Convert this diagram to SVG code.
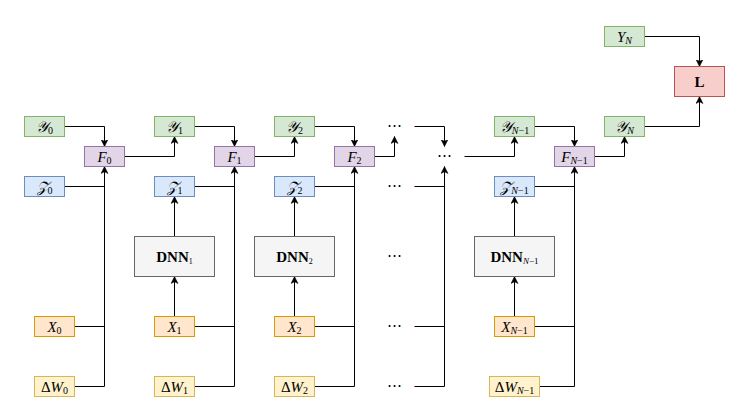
<svg xmlns="http://www.w3.org/2000/svg" width="744" height="413" viewBox="0 0 744 413">
<style>
text{font-family:"Liberation Serif","DejaVu Serif",serif;font-size:15px;text-anchor:middle;fill:#000}
.i{font-style:italic}
.s{font-size:10px}
.b{font-weight:bold}
.g rect{fill:#d5e8d4;stroke:#82b366}
.p rect{fill:#e1d5e7;stroke:#9673a6}
.bl rect{fill:#dae8fc;stroke:#6c8ebf}
.o rect{fill:#ffe6cc;stroke:#d79b00}
.y rect{fill:#fff2cc;stroke:#d6b656}
.gr rect{fill:#f5f5f5;stroke:#666666}
.r rect{fill:#f8cecc;stroke:#b85450}
#edges path{fill:none;stroke:#000;stroke-width:1}
#edges path.a{marker-end:url(#arr)}
</style>
<defs>
<marker id="arr" viewBox="0 0 8 8" refX="7" refY="4" markerWidth="8" markerHeight="8" markerUnits="userSpaceOnUse" orient="auto">
<path d="M0,0.5 L7,4 L0,7.5 L1.8,4 z" fill="#000" stroke="#000" stroke-width="0.5"/>
</marker>
</defs>
<rect width="744" height="413" fill="#fff"/>
<g transform="translate(0.5,0.5)">
<g id="edges">
<path class="a" d="M64,126 H104 V146"/>
<path d="M64,186 H104"/>
<path d="M74,326 H104"/>
<path class="a" d="M74,386 H104 V166"/>
<path class="a" d="M124,156 H174 V136"/>
<path class="a" d="M194,126 H234 V146"/>
<path d="M194,186 H234"/>
<path class="a" d="M174,236 V196"/>
<path class="a" d="M174,316 V276"/>
<path d="M194,326 H234"/>
<path class="a" d="M194,386 H234 V166"/>
<path class="a" d="M254,156 H294 V136"/>
<path class="a" d="M314,126 H354 V146"/>
<path d="M314,186 H354"/>
<path class="a" d="M294,236 V196"/>
<path class="a" d="M294,316 V276"/>
<path d="M314,326 H354"/>
<path class="a" d="M314,386 H354 V166"/>
<path class="a" d="M374,156 H394 V136"/>
<path class="a" d="M414,126 H444 V146"/>
<path d="M414,186 H444"/>
<path d="M414,326 H444"/>
<path class="a" d="M414,386 H444 V166"/>
<path class="a" d="M464,156 H514 V136"/>
<path class="a" d="M534,126 H574 V146"/>
<path d="M534,186 H574"/>
<path class="a" d="M514,236 V196"/>
<path class="a" d="M514,316 V276"/>
<path d="M534,326 H574"/>
<path class="a" d="M539,386 H574 V166"/>
<path class="a" d="M594,156 H624 V136"/>
<path class="a" d="M644,126 H699 V96"/>
<path class="a" d="M644,36 H699 V66"/>
</g>

<g id="Y0" class="g"><rect x="24" y="116" width="40" height="20"/><text x="44" y="131" class="i">𝒴<tspan class="s" font-style="normal" dy="2">0</tspan></text></g>
<g id="Z0" class="bl"><rect x="24" y="176" width="40" height="20"/><text x="44" y="191" class="i">𝒵<tspan class="s" font-style="normal" dy="2">0</tspan></text></g>
<g id="F0" class="p"><rect x="84" y="146" width="40" height="20"/><text x="104" y="161" class="i">F<tspan class="s" font-style="normal" dy="2">0</tspan></text></g>
<g id="X0" class="o"><rect x="34" y="316" width="40" height="20"/><text x="54" y="331" class="i">X<tspan class="s" font-style="normal" dy="2">0</tspan></text></g>
<g id="DW0" class="y"><rect x="34" y="376" width="40" height="20"/><text x="54" y="391">Δ<tspan class="i">W</tspan><tspan class="s" dy="2">0</tspan></text></g>

<g id="Y1" class="g"><rect x="154" y="116" width="40" height="20"/><text x="174" y="131" class="i">𝒴<tspan class="s" font-style="normal" dy="2">1</tspan></text></g>
<g id="Z1" class="bl"><rect x="154" y="176" width="40" height="20"/><text x="174" y="191" class="i">𝒵<tspan class="s" font-style="normal" dy="2">1</tspan></text></g>
<g id="F1" class="p"><rect x="214" y="146" width="40" height="20"/><text x="234" y="161" class="i">F<tspan class="s" font-style="normal" dy="2">1</tspan></text></g>
<g id="DNN1" class="gr"><rect x="134" y="236" width="80" height="40"/><text x="174" y="261" class="b" fill="#333">DNN<tspan font-size="8" font-weight="normal" dy="2">1</tspan></text></g>
<g id="X1" class="o"><rect x="154" y="316" width="40" height="20"/><text x="174" y="331" class="i">X<tspan class="s" font-style="normal" dy="2">1</tspan></text></g>
<g id="DW1" class="y"><rect x="154" y="376" width="40" height="20"/><text x="174" y="391">Δ<tspan class="i">W</tspan><tspan class="s" dy="2">1</tspan></text></g>

<g id="Y2" class="g"><rect x="274" y="116" width="40" height="20"/><text x="294" y="131" class="i">𝒴<tspan class="s" font-style="normal" dy="2">2</tspan></text></g>
<g id="Z2" class="bl"><rect x="274" y="176" width="40" height="20"/><text x="294" y="191" class="i">𝒵<tspan class="s" font-style="normal" dy="2">2</tspan></text></g>
<g id="F2" class="p"><rect x="334" y="146" width="40" height="20"/><text x="354" y="161" class="i">F<tspan class="s" font-style="normal" dy="2">2</tspan></text></g>
<g id="DNN2" class="gr"><rect x="254" y="236" width="80" height="40"/><text x="294" y="261" class="b" fill="#333">DNN<tspan font-size="8" font-weight="normal" dy="2">2</tspan></text></g>
<g id="X2" class="o"><rect x="274" y="316" width="40" height="20"/><text x="294" y="331" class="i">X<tspan class="s" font-style="normal" dy="2">2</tspan></text></g>
<g id="DW2" class="y"><rect x="274" y="376" width="40" height="20"/><text x="294" y="391">Δ<tspan class="i">W</tspan><tspan class="s" dy="2">2</tspan></text></g>

<g id="dots-y"><text x="394" y="129">⋯</text></g>
<g id="dots-mid"><text x="444" y="159">⋯</text></g>
<g id="dots-z"><text x="394" y="189">⋯</text></g>
<g id="dots-dnn"><text x="394" y="259">⋯</text></g>
<g id="dots-x"><text x="394" y="329">⋯</text></g>
<g id="dots-dw"><text x="394" y="389">⋯</text></g>

<g id="YN1" class="g"><rect x="494" y="116" width="40" height="20"/><text x="514" y="131" class="i">𝒴<tspan class="s" dy="2">N</tspan><tspan class="s" font-style="normal">−1</tspan></text></g>
<g id="ZN1" class="bl"><rect x="494" y="176" width="40" height="20"/><text x="514" y="191" class="i">𝒵<tspan class="s" dy="2">N</tspan><tspan class="s" font-style="normal">−1</tspan></text></g>
<g id="FN1" class="p"><rect x="554" y="146" width="40" height="20"/><text x="574" y="161" class="i">F<tspan class="s" dy="2">N</tspan><tspan class="s" font-style="normal">−1</tspan></text></g>
<g id="DNNN1" class="gr"><rect x="474" y="236" width="80" height="40"/><text x="514" y="261" class="b" fill="#333">DNN<tspan font-size="9" font-weight="normal" font-style="italic" dy="2">N</tspan><tspan font-size="9" font-weight="normal">−1</tspan></text></g>
<g id="XN1" class="o"><rect x="494" y="316" width="40" height="20"/><text x="514" y="331" class="i">X<tspan class="s" dy="2">N</tspan><tspan class="s" font-style="normal">−1</tspan></text></g>
<g id="DWN1" class="y"><rect x="489" y="376" width="50" height="20"/><text x="514" y="391">Δ<tspan class="i">W</tspan><tspan class="s i" dy="2">N</tspan><tspan class="s">−1</tspan></text></g>

<g id="YcalN" class="g"><rect x="604" y="116" width="40" height="20"/><text x="624" y="131" class="i">𝒴<tspan class="s" dy="2">N</tspan></text></g>
<g id="YN" class="g"><rect x="604" y="26" width="40" height="20"/><text x="624" y="41" class="i">Y<tspan class="s" dy="2">N</tspan></text></g>
<g id="L" class="r"><rect x="674" y="66" width="50" height="30"/><text x="699" y="86" class="b">L</text></g>
</g>
</svg>
